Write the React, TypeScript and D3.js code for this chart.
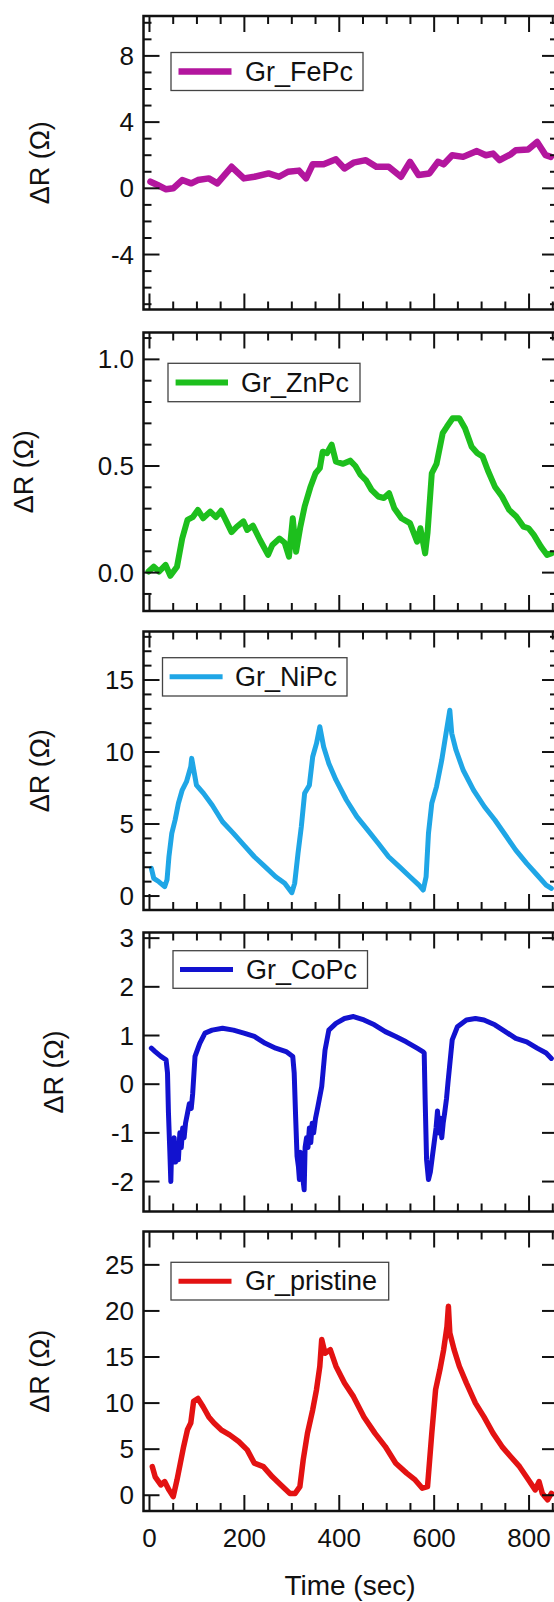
import React from "react";
import * as d3 from "d3";

// ---------- data (time in sec, ΔR in Ω) ----------
const feT = [2,17,35,50,69,88,102,125,143,173,199,221,251,273,292,315,330,344,367,393,411,430,456,478,504,530,549,567,590,608,620,638,661,690,709,724,738,761,772,798,817,835,846];
const feV = [0.4,0.2,-0.06,0.0,0.5,0.3,0.5,0.6,0.3,1.3,0.6,0.7,0.9,0.7,1.0,1.07,0.6,1.45,1.45,1.75,1.2,1.55,1.7,1.3,1.3,0.7,1.6,0.8,0.9,1.6,1.45,2.0,1.9,2.25,2.0,2.1,1.7,2.05,2.3,2.35,2.8,2.0,1.9];

const znT = [-2,9,20,34,44,58,69,80,91,102,113,128,140,151,162,173,184,198,206,218,233,250,259,274,285,294,302,309,318,327,339,350,359,365,374,384,393,408,423,434,445,456,468,482,494,505,516,531,549,564,571,581,586,595,605,618,627,639,653,665,679,691,702,713,728,743,758,773,788,799,810,825,838,847];
const znV = [0.005,0.028,0.005,0.036,-0.015,0.028,0.16,0.247,0.26,0.294,0.255,0.286,0.26,0.29,0.24,0.19,0.215,0.24,0.2,0.22,0.153,0.083,0.13,0.16,0.14,0.075,0.255,0.098,0.215,0.31,0.40,0.466,0.49,0.567,0.56,0.6,0.52,0.51,0.525,0.5,0.458,0.434,0.388,0.357,0.35,0.372,0.302,0.255,0.232,0.145,0.208,0.09,0.186,0.466,0.51,0.654,0.685,0.724,0.724,0.677,0.59,0.56,0.545,0.48,0.403,0.357,0.294,0.263,0.216,0.208,0.177,0.122,0.083,0.09];

const niT = [4,9,20,32,37,41,47,54,61,69,78,87,89,99,114,132,154,177,199,221,244,266,285,300,306,313,320,327,337,344,352,359,367,378,393,415,437,460,482,504,527,549,568,577,583,588,595,605,616,625,633,637,646,661,683,706,728,750,772,795,817,836,847];
const niV = [1.92,1.23,0.99,0.65,1.13,2.73,4.35,5.28,6.44,7.36,7.94,8.98,9.56,7.7,7.13,6.32,5.16,4.35,3.54,2.73,2.03,1.34,0.88,0.23,0.88,2.96,4.81,7.13,7.7,9.67,10.6,11.76,10.37,9.21,8.06,6.67,5.51,4.58,3.66,2.73,2.03,1.34,0.76,0.42,1.34,4.35,6.44,7.6,9.44,11.3,12.9,11.3,10.14,8.75,7.36,6.2,5.28,4.24,3.19,2.27,1.46,0.76,0.53];

const coData: [number, number][] = [
  [4,0.74],[12,0.67],[24,0.57],[35,0.5],[38,0.23],[40,-0.59],[43,-1.41],[45,-2.0],[47,-1.2],[50,-1.5],
  [52,-1.1],[55,-1.6],[58,-1.3],[61,-1.55],[64,-1.0],[67,-1.3],[70,-0.9],[73,-1.1],[76,-0.8],[80,-0.6],
  [84,-0.4],[88,-0.5],[91,-0.2],[96,0.57],[106,0.84],[117,1.05],[132,1.11],[154,1.15],[177,1.11],[199,1.05],
  [221,0.98],[244,0.84],[266,0.74],[288,0.67],[302,0.57],[305,0.23],[308,-0.66],[311,-1.48],[314,-1.7],[316,-1.96],
  [318,-1.4],[320,-1.8],[322,-1.5],[324,-2.0],[326,-2.17],[328,-1.3],[331,-1.1],[334,-1.3],[337,-0.9],[340,-1.2],
  [343,-0.8],[346,-1.0],[350,-0.7],[355,-0.46],[363,-0.05],[370,0.7],[378,1.11],[393,1.25],[411,1.35],[430,1.39],
  [452,1.32],[474,1.22],[497,1.08],[519,0.98],[541,0.87],[564,0.74],[576,0.67],[579,0.64],[581,-0.32],[584,-1.55],
  [588,-1.96],[592,-1.8],[596,-1.5],[600,-1.2],[604,-0.9],[607,-0.55],[610,-1.0],[613,-0.7],[616,-1.1],[619,-0.8],
  [622,-0.6],[626,-0.3],[629,0.02],[638,0.91],[649,1.18],[668,1.32],[687,1.35],[705,1.32],[728,1.22],[750,1.08],
  [772,0.94],[795,0.87],[817,0.74],[836,0.64],[847,0.53],
];
const coT = coData.map((d) => d[0]);
const coV = coData.map((d) => d[1]);

const prT = [6,12,24,32,41,50,58,65,72,80,87,93,102,113,125,136,151,169,188,206,221,240,259,277,296,307,317,324,333,344,352,359,363,370,381,393,411,430,452,475,497,519,542,560,575,586,595,603,612,620,627,630,633,642,653,668,687,705,724,743,761,780,799,813,821,828,839,847];
const prV = [3.1,2.0,1.12,1.48,0.58,-0.15,1.66,3.48,5.28,7.1,7.83,10.2,10.5,9.6,8.5,7.83,7.1,6.55,5.83,4.92,3.48,3.1,2.0,1.12,0.2,0.2,0.93,3.84,6.74,9.27,11.45,13.98,16.9,15.4,15.8,14,12.17,10.7,8.5,6.74,5.28,3.48,2.4,1.66,0.76,0.93,6.74,11.45,13.6,15.8,18.3,20.5,17.6,15.8,14,12.17,10,8.5,6.74,5.28,4.2,3.1,1.66,0.58,1.48,0.2,-0.5,0.2];

const xMajorTicks = [0, 200, 400, 600, 800];
const xTickLabels = ["0", "200", "400", "600", "800"];

const seriesNames = ["Gr_FePc", "Gr_ZnPc", "Gr_NiPc", "Gr_CoPc", "Gr_pristine"];
const yMajor = [
  [-4, 0, 4, 8],
  [0, 0.5, 1.0],
  [0, 5, 10, 15],
  [-2, -1, 0, 1, 2, 3],
  [0, 5, 10, 15, 20, 25],
];
const yMajorLabels = [
  ["-4", "0", "4", "8"],
  ["0.0", "0.5", "1.0"],
  ["0", "5", "10", "15"],
  ["-2", "-1", "0", "1", "2", "3"],
  ["0", "5", "10", "15", "20", "25"],
];
const yMinorStep = [1, 0.1, 1, 0, 0];

// ---------- layout ----------
const W = 554, H = 1602;
const FONT = "'Liberation Sans', Arial, Helvetica, sans-serif";
const xPx: [number, number] = [143.5, 558];
const xDom: [number, number] = [-12.6, 861];

const panels = [
  { top: 16, bottom: 309.5, dom: [-7.32, 10.41], t: feT, v: feV, color: "#B3169E", sw: 6.5, lsw: 6.5,
    legend: { x0: 171, x1: 363, y0: 52.5, y1: 90.5, lx0: 178.5, lx1: 231.5, tx: 245 }, titleX: 40 },
  { top: 332.5, bottom: 611, dom: [-0.18, 1.126], t: znT, v: znV, color: "#1DBF1D", sw: 6, lsw: 6,
    legend: { x0: 168, x1: 360, y0: 363.3, y1: 401.7, lx0: 175.6, lx1: 228, tx: 241 }, titleX: 24 },
  { top: 631.5, bottom: 910, dom: [-0.97, 18.37], t: niT, v: niV, color: "#1FA6E6", sw: 5, lsw: 5,
    legend: { x0: 162.5, x1: 347, y0: 657.7, y1: 696, lx0: 169.6, lx1: 222.6, tx: 235 }, titleX: 40 },
  { top: 932.5, bottom: 1211.5, dom: [-2.615, 3.116], t: coT, v: coV, color: "#1212CF", sw: 5, lsw: 5,
    legend: { x0: 173, x1: 367.5, y0: 950.7, y1: 988.3, lx0: 180, lx1: 233, tx: 246 }, titleX: 54 },
  { top: 1231.5, bottom: 1511, dom: [-1.71, 28.62], t: prT, v: prV, color: "#E31212", sw: 5.5, lsw: 5,
    legend: { x0: 171, x1: 388.7, y0: 1262.3, y1: 1300, lx0: 178.5, lx1: 231.5, tx: 245 }, titleX: 40 },
];

const MAJ = 16, MIN = 8;

function Panel({ p, i }: { p: any; i: number }) {
  const x = d3.scaleLinear().domain(xDom).range(xPx);
  const y = d3.scaleLinear().domain(p.dom).range([p.bottom, p.top]);
  const pts = p.t.map((t: number, k: number) => [t, p.v[k]] as [number, number]);
  const line = d3.line<[number, number]>().x((d) => x(d[0])).y((d) => y(d[1]));
  const xMinor = d3.range(0, 851, 50).filter((t) => !xMajorTicks.includes(t));
  const ys = yMajor[i];
  let yMinor: number[] = [];
  if (yMinorStep[i] > 0) {
    const st = yMinorStep[i];
    const lo = Math.ceil(p.dom[0] / st), hi = Math.floor(p.dom[1] / st);
    for (let k = lo; k <= hi; k++) {
      const val = +(k * st).toFixed(4);
      if (!ys.some((m: number) => Math.abs(m - val) < 1e-6)) yMinor.push(val);
    }
  }
  const L = xPx[0], R = xPx[1];
  const clipId = `clip${i}`;
  const lg = p.legend;
  return (
    <g>
      <defs>
        <clipPath id={clipId}>
          <rect x={L} y={p.top} width={R - L} height={p.bottom - p.top} />
        </clipPath>
      </defs>
      <path d={line(pts) || ""} fill="none" stroke={p.color} strokeWidth={p.sw}
        strokeLinejoin="round" strokeLinecap="round" clipPath={`url(#${clipId})`} />
      <rect x={L} y={p.top} width={R - L} height={p.bottom - p.top} fill="none" stroke="#111" strokeWidth={2.5} />
      {xMajorTicks.map((t) => (
        <g key={"xm" + t}>
          <line x1={x(t)} x2={x(t)} y1={p.top} y2={p.top + MAJ} stroke="#111" strokeWidth={2} />
          <line x1={x(t)} x2={x(t)} y1={p.bottom} y2={p.bottom - MAJ} stroke="#111" strokeWidth={2} />
        </g>
      ))}
      {xMinor.map((t) => (
        <g key={"xn" + t}>
          <line x1={x(t)} x2={x(t)} y1={p.top} y2={p.top + MIN} stroke="#111" strokeWidth={2} />
          <line x1={x(t)} x2={x(t)} y1={p.bottom} y2={p.bottom - MIN} stroke="#111" strokeWidth={2} />
        </g>
      ))}
      {ys.map((v: number) => (
        <g key={"ym" + v}>
          <line x1={L} x2={L + MAJ} y1={y(v)} y2={y(v)} stroke="#111" strokeWidth={2} />
          <line x1={R} x2={R - MAJ} y1={y(v)} y2={y(v)} stroke="#111" strokeWidth={2} />
        </g>
      ))}
      {yMinor.map((v) => (
        <g key={"yn" + v}>
          <line x1={L} x2={L + MIN} y1={y(v)} y2={y(v)} stroke="#111" strokeWidth={2} />
          <line x1={R} x2={R - MIN} y1={y(v)} y2={y(v)} stroke="#111" strokeWidth={2} />
        </g>
      ))}
      {ys.map((v: number, k: number) => (
        <text key={"yl" + v} x={134} y={y(v)} textAnchor="end" dominantBaseline="central"
          fontFamily={FONT} fontSize={26} fill="#111">{yMajorLabels[i][k]}</text>
      ))}
      <text transform={`translate(${p.titleX},${(p.top + p.bottom) / 2}) rotate(-90)`} textAnchor="middle"
        dominantBaseline="central" fontFamily={FONT} fontSize={27} fill="#111">ΔR (Ω)</text>
      <rect x={lg.x0} y={lg.y0} width={lg.x1 - lg.x0} height={lg.y1 - lg.y0} fill="#fff" stroke="#444" strokeWidth={1.3} />
      <line x1={lg.lx0} x2={lg.lx1} y1={(lg.y0 + lg.y1) / 2} y2={(lg.y0 + lg.y1) / 2} stroke={p.color} strokeWidth={p.lsw} />
      <text x={lg.tx} y={(lg.y0 + lg.y1) / 2} dominantBaseline="central" fontFamily={FONT} fontSize={27} fill="#111">
        {seriesNames[i]}
      </text>
      {i === panels.length - 1 && (
        <g>
          {xMajorTicks.map((t, k) => (
            <text key={"xl" + t} x={x(t)} y={1547} textAnchor="middle" fontFamily={FONT} fontSize={26} fill="#111">
              {xTickLabels[k]}
            </text>
          ))}
          <text x={350} y={1595} textAnchor="middle" fontFamily={FONT} fontSize={28} fill="#111">Time (sec)</text>
        </g>
      )}
    </g>
  );
}

export default function App() {
  return (
    <svg width={W} height={H} viewBox={`0 0 ${W} ${H}`}
      style={{ position: "absolute", left: 0, top: 0, background: "#fff", display: "block" }}>
      <rect x={0} y={0} width={W} height={H} fill="#fff" />
      {panels.map((p, i) => <Panel key={i} p={p} i={i} />)}
    </svg>
  );
}
